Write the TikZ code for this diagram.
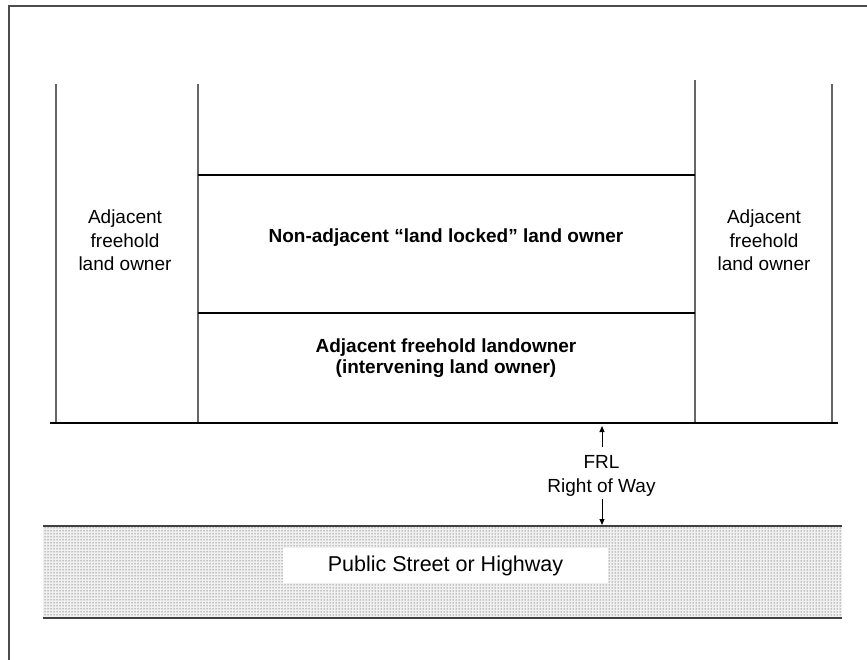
\documentclass[tikz,border=0pt]{standalone}
\usepackage{fontspec}
\setmainfont{Liberation Sans}
\usetikzlibrary{patterns,arrows.meta}
\begin{document}
\begin{tikzpicture}[x=1pt,y=-1pt,
  frameline/.style={line width=2pt,draw=black!70},
  vline/.style={line width=1.5pt,draw=black!60},
  hline/.style={line width=1.2pt,draw=black},
  reglabel/.style={align=center,inner sep=0pt,font=\fontsize{19}{23.5}\selectfont},
  boldlabel/.style={align=center,inner sep=0pt,font=\fontsize{19}{21}\selectfont\bfseries},
  arr/.style={line width=1pt,-{Triangle[width=5pt,length=6pt]}}]
\useasboundingbox (0,0) rectangle (867,660);
% outer frame
\draw[frameline] (9,662) -- (9,6) -- (869,6);
% coordinates of the plot lines
\coordinate (gl) at (50,423);
\coordinate (gr) at (838,423);
\coordinate (v1t) at (56,84);   \coordinate (v1b) at (56,423);
\coordinate (v2t) at (198,84);  \coordinate (v2b) at (198,423);
\coordinate (v3t) at (695,80);  \coordinate (v3b) at (695,423);
\coordinate (v4t) at (832,84);  \coordinate (v4b) at (832,423);
\coordinate (h1l) at (198,175); \coordinate (h1r) at (695,175);
\coordinate (h2l) at (198,313); \coordinate (h2r) at (695,313);
\coordinate (stl) at (43,526);  \coordinate (str) at (842,526);
\coordinate (sbl) at (43,618);  \coordinate (sbr) at (842,618);
% street
\fill[black!6] (stl) rectangle (sbr);
\fill[pattern=dots,pattern color=black!85] (stl) rectangle (sbr);
\draw[hline,draw=black!75] (stl) -- (str);
\draw[hline,draw=black!75] (sbl) -- (sbr);
% plot lines
\draw[vline] (v1t) -- (v1b);
\draw[vline] (v2t) -- (v2b);
\draw[vline] (v3t) -- (v3b);
\draw[vline] (v4t) -- (v4b);
\draw[hline] (h1l) -- (h1r);
\draw[hline] (h2l) -- (h2r);
\draw[hline] (gl) -- (gr);
% labels
\node[reglabel] (adjl) at (125,240.5) {Adjacent\\freehold\\land owner};
\node[reglabel] (adjr) at (764,240.5) {Adjacent\\freehold\\land owner};
\node[boldlabel] (nonadj) at (446,238) {Non-adjacent “land locked” land owner};
\node[boldlabel] (interv) at (446,358) {Adjacent freehold landowner\\(intervening land owner)};
\node[reglabel,inner sep=3pt] (frl) at (601.5,476) {FRL\\Right of Way};
\node[fill=white,inner sep=0pt,minimum width=325pt,minimum height=35pt,
      font=\fontsize{21.5}{26}\selectfont] (street) at (445.5,565.5) {Public Street or Highway};
% arrows
\coordinate (ga) at (602,426);
\coordinate (sa) at (602,525);
\draw[arr,shorten <=6pt] (frl.north -| ga) -- (ga);
\draw[arr] (frl.south -| sa) -- (sa);
\end{tikzpicture}
\end{document}
